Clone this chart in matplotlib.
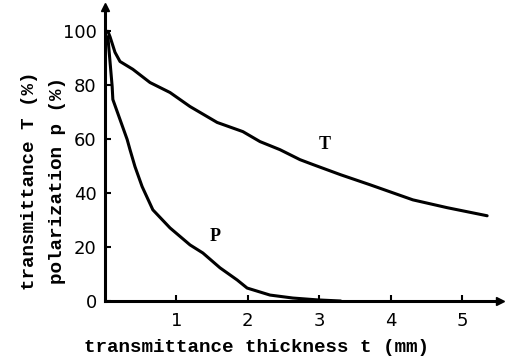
import matplotlib
matplotlib.use("Agg")
import matplotlib.pyplot as plt

# Data
t_T = [0.04, 0.07, 0.14, 0.21, 0.39, 0.63, 0.91, 1.19, 1.57, 1.93, 2.17, 2.45, 2.73, 2.91,
       3.3, 3.71, 4.31, 4.79, 5.35]
T_vals = [100, 98, 92.2, 88.8, 85.9, 81, 77.3, 72.1, 66.2, 62.8, 59.1, 56.1, 52.4, 50.6,
          46.8, 43.1, 37.5, 34.6, 31.6]

t_P = [0.04, 0.10, 0.11, 0.21, 0.31, 0.35, 0.42, 0.52, 0.67, 0.91, 1.19, 1.37, 1.61, 1.85,
       1.99, 2.31, 2.63, 2.98, 3.3]
P_vals = [98, 79.6, 74.7, 67.3, 59.9, 56.1, 49.8, 42.4, 33.8, 27.1, 20.8, 17.8, 12.3, 7.8,
          4.8, 2.2, 1.1, 0.4, 0.0]

x_ticks = [1, 2, 3, 4, 5]
y_ticks = [0, 20, 40, 60, 80, 100]

fig = plt.figure(figsize=(5.07, 3.6), dpi=100)
ax = fig.add_axes([105/507, 1 - 301/360, (500 - 105)/507, (301 - 7)/360])
ax.set_xlim(0, 5.53)
ax.set_ylim(0, 109)

ax.plot(t_T, T_vals, color="black", lw=2.2, solid_capstyle="round", solid_joinstyle="round")
ax.plot(t_P, P_vals, color="black", lw=2.2, solid_capstyle="round", solid_joinstyle="round")

for s in ["top", "right"]:
    ax.spines[s].set_visible(False)
for s in ["left", "bottom"]:
    ax.spines[s].set_linewidth(2.2)
    ax.spines[s].set_color("black")

# arrowheads
ax.plot(1, 0, ">k", transform=ax.transAxes, clip_on=False, markersize=6)
ax.plot(0, 1, "^k", transform=ax.transAxes, clip_on=False, markersize=6)

ax.set_xticks(x_ticks)
ax.set_yticks(y_ticks)
ax.tick_params(direction="in", length=4, width=1.5, colors="black")
ax.tick_params(axis="x", pad=8)
ax.tick_params(axis="y", pad=6)
for lab in ax.get_xticklabels() + ax.get_yticklabels():
    lab.set_fontsize(13)
    lab.set_fontfamily("DejaVu Sans")

mono = dict(family="Liberation Mono", weight="bold", fontsize=13.9)
fig.text(256/507, 1 - 347/360, "transmittance thickness t (mm)", ha="center", va="center", **mono)
fig.text(30/507, 1 - 181/360, "transmittance T (%)", ha="center", va="center", rotation=90, **mono)
fig.text(57/507, 1 - 181/360, "polarization p (%)", ha="center", va="center", rotation=90, **mono)

ax.text(3.07, 58, "T", family="Liberation Serif", weight="bold", fontsize=13, ha="center", va="center")
ax.text(1.54, 24, "P", family="Liberation Serif", weight="bold", fontsize=13, ha="center", va="center")

fig.savefig("out.png", dpi=100)
